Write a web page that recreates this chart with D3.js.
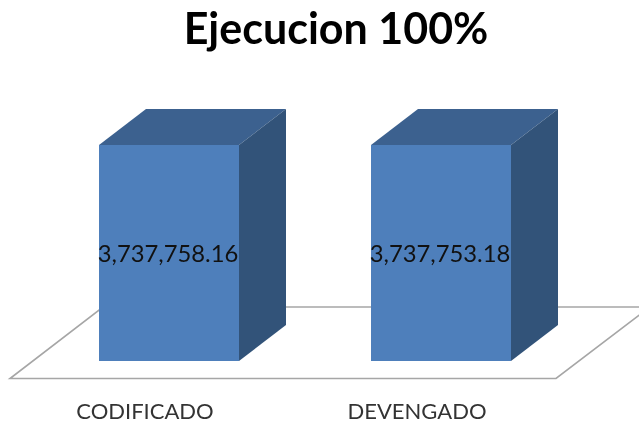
<!DOCTYPE html>
<html>
<head>
<meta charset="utf-8">
<script src="https://d3js.org/d3.v7.min.js"></script>
<style>
html, body { margin: 0; padding: 0; background: #fff; }
svg { display: block; filter: blur(0.5px); }
text { font-family: Lato, "Open Sans", sans-serif; }
</style>
</head>
<body>
<div id="chart"></div>
<script>
const chartTitle = "Ejecucion 100%";
const categories = ["CODIFICADO", "DEVENGADO"];
const values = [3737758.16, 3737753.18];
const valueLabels = ["3,737,758.16", "3,737,753.18"];

const width = 639, height = 423;
const baseY = 361, topY = 145;
const depthX = 47, depthY = 36;

const svg = d3.select("#chart").append("svg")
    .attr("width", width)
    .attr("height", height);

const x = d3.scaleBand()
    .domain(categories)
    .range([33, 577])
    .paddingInner(132 / 272)
    .paddingOuter(66 / 272);

const y = d3.scaleLinear()
    .domain([0, d3.max(values)])
    .range([baseY, topY]);

// floor of the 3d plot
const floor = svg.append("g")
    .attr("fill", "none")
    .attr("stroke", "#a6a6a6")
    .attr("stroke-width", 1.6);

floor.append("path")
    .attr("d", "M10,378.5 L556,378.5 L650,307 L103,307 Z");

const bars = svg.selectAll("g.bar")
    .data(categories)
    .enter().append("g")
    .attr("class", "bar");

// top face
bars.append("path")
    .attr("fill", "#3c618f")
    .attr("d", (d, i) => {
        const x0 = x(d), x1 = x0 + x.bandwidth(), yt = y(values[i]);
        return `M${x0},${yt} L${x1},${yt} L${x1 + depthX},${yt - depthY} L${x0 + depthX},${yt - depthY} Z`;
    });

// side face
bars.append("path")
    .attr("fill", "#325379")
    .attr("d", (d, i) => {
        const x1 = x(d) + x.bandwidth(), yt = y(values[i]), yb = y(0);
        return `M${x1},${yt} L${x1 + depthX},${yt - depthY} L${x1 + depthX},${yb - depthY} L${x1},${yb} Z`;
    });

// front face
bars.append("rect")
    .attr("fill", "#4e7fbb")
    .attr("x", d => x(d))
    .attr("y", (d, i) => y(values[i]))
    .attr("width", x.bandwidth())
    .attr("height", (d, i) => y(0) - y(values[i]));

bars.append("text")
    .attr("x", d => x(d) + x.bandwidth() / 2 - 1)
    .attr("y", 262)
    .attr("text-anchor", "middle")
    .attr("font-size", 23.8)
    .attr("fill", "#111")
    .text((d, i) => valueLabels[i]);

svg.selectAll("text.cat")
    .data(categories)
    .enter().append("text")
    .attr("class", "cat")
    .attr("x", d => x(d) + x.bandwidth() / 2 - 24)
    .attr("y", 418.5)
    .attr("text-anchor", "middle")
    .attr("font-size", 22)
    .attr("fill", "#333")
    .text(d => d);

svg.append("text")
    .attr("x", 336)
    .attr("y", 44)
    .attr("text-anchor", "middle")
    .attr("font-size", 43)
    .attr("font-weight", "bold")
    .attr("fill", "#000")
    .text(chartTitle);
</script>
</body>
</html>
